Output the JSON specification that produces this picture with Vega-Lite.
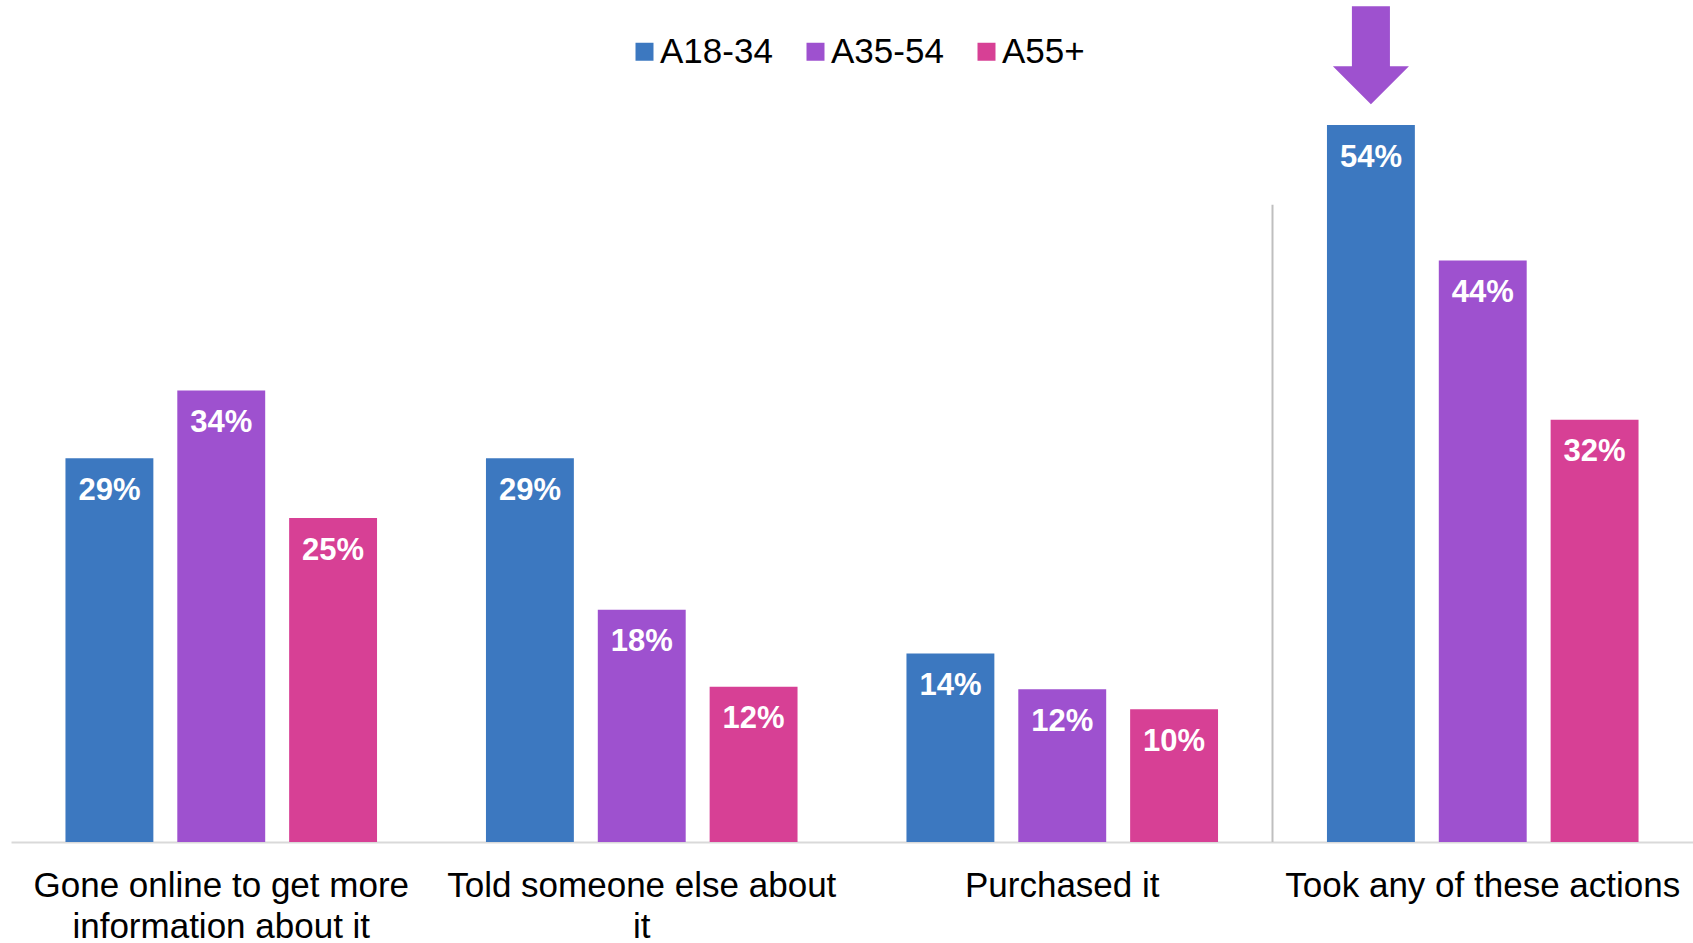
{
  "$schema": "https://vega.github.io/schema/vega-lite/v6.json",
  "autosize": {"type": "none"},
  "width": 1682,
  "height": 717,
  "padding": {"left": 11, "top": 125, "right": 0, "bottom": 101},
  "background": "white",
  "config": {"view": {"stroke": null}, "font": "Liberation Sans"},
  "data": {
    "values": [
      {"category": "Gone online to get more information about it", "group": "A18-34", "value": 0.289, "label": "29%"},
      {"category": "Gone online to get more information about it", "group": "A35-54", "value": 0.340, "label": "34%"},
      {"category": "Gone online to get more information about it", "group": "A55+", "value": 0.244, "label": "25%"},
      {"category": "Told someone else about it", "group": "A18-34", "value": 0.289, "label": "29%"},
      {"category": "Told someone else about it", "group": "A35-54", "value": 0.175, "label": "18%"},
      {"category": "Told someone else about it", "group": "A55+", "value": 0.117, "label": "12%"},
      {"category": "Purchased it", "group": "A18-34", "value": 0.142, "label": "14%"},
      {"category": "Purchased it", "group": "A35-54", "value": 0.115, "label": "12%"},
      {"category": "Purchased it", "group": "A55+", "value": 0.100, "label": "10%"},
      {"category": "Took any of these actions", "group": "A18-34", "value": 0.540, "label": "54%"},
      {"category": "Took any of these actions", "group": "A35-54", "value": 0.438, "label": "44%"},
      {"category": "Took any of these actions", "group": "A55+", "value": 0.318, "label": "32%"}
    ]
  },
  "layer": [
    {
      "mark": {"type": "bar"},
      "encoding": {
        "x": {
          "field": "category",
          "type": "nominal",
          "scale": {
            "domain": ["Gone online to get more information about it", "Told someone else about it", "Purchased it", "Took any of these actions"],
            "paddingInner": 0,
            "paddingOuter": 0
          },
          "axis": {
            "title": null,
            "labelAngle": 0,
            "labelFontSize": 35,
            "labelFont": "Liberation Sans",
            "labelColor": "black",
            "ticks": false,
            "domainColor": "#D9D9D9",
            "domainWidth": 2,
            "labelPadding": 26,
            "labelLineHeight": 41,
            "labelLimit": 1000,
            "labelOverlap": false,
            "labelExpr": "datum.value == 'Gone online to get more information about it' ? ['Gone online to get more', 'information about it'] : datum.value == 'Told someone else about it' ? ['Told someone else about', 'it'] : datum.value"
          }
        },
        "xOffset": {
          "field": "group",
          "type": "nominal",
          "scale": {"domain": ["A18-34", "A35-54", "A55+"], "paddingInner": 0.214, "paddingOuter": 0.487}
        },
        "y": {
          "field": "value",
          "type": "quantitative",
          "scale": {"domain": [0, 0.54], "nice": false, "zero": true},
          "axis": null
        },
        "color": {
          "field": "group",
          "type": "nominal",
          "scale": {"domain": ["A18-34", "A35-54", "A55+"], "range": ["#3C78C0", "#9E51CF", "#D74095"]},
          "legend": {
            "orient": "none",
            "direction": "horizontal",
            "columns": 3,
            "legendX": 616,
            "legendY": -91,
            "title": null,
            "symbolType": "square",
            "symbolSize": 324,
            "symbolStrokeWidth": 0,
            "labelFontSize": 35,
            "labelFont": "Liberation Sans",
            "labelColor": "black",
            "labelOffset": -2,
            "columnPadding": 25,
            "padding": 0,
            "labelLimit": 500
          }
        }
      }
    },
    {
      "mark": {"type": "text", "baseline": "middle", "dy": 32.5, "fontWeight": "bold", "fontSize": 31, "color": "white", "font": "Liberation Sans"},
      "encoding": {
        "x": {"field": "category", "type": "nominal"},
        "xOffset": {"field": "group", "type": "nominal"},
        "y": {"field": "value", "type": "quantitative"},
        "text": {"field": "label", "type": "nominal"}
      }
    },
    {
      "transform": [{"filter": "datum.category == 'Took any of these actions' && datum.group == 'A18-34'"}],
      "mark": {"type": "rule", "color": "#BFBFBF", "strokeWidth": 2},
      "encoding": {
        "x": {"field": "category", "type": "nominal", "bandPosition": 0},
        "y": {"datum": 0},
        "y2": {"datum": 0.48}
      }
    },
    {
      "transform": [{"filter": "datum.category == 'Took any of these actions' && datum.group == 'A18-34'"}],
      "mark": {
        "type": "point",
        "filled": true,
        "opacity": 1,
        "color": "#9E51CF",
        "size": 9604,
        "shape": "M -0.388 -1 L 0.388 -1 L 0.388 0.224 L 0.776 0.224 L 0 1 L -0.776 0.224 L -0.388 0.224 Z"
      },
      "encoding": {
        "x": {"field": "category", "type": "nominal"},
        "xOffset": {"field": "group", "type": "nominal"},
        "y": {"datum": 0.5926}
      }
    }
  ]
}
